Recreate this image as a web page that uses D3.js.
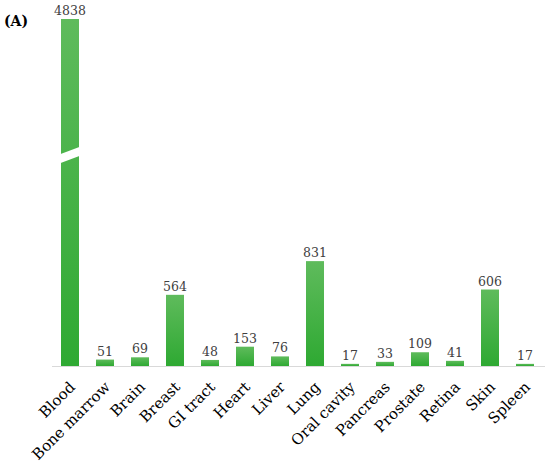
<!DOCTYPE html>
<html><head><meta charset="utf-8">
<script src="https://cdn.jsdelivr.net/npm/d3@7"></script>
<style>body{margin:0;background:#fff}svg{display:block}</style>
</head><body>
<svg id="c" width="550" height="465"></svg>
<script>
const categories = ["Blood","Bone marrow","Brain","Breast","GI tract","Heart","Liver","Lung","Oral cavity","Pancreas","Prostate","Retina","Skin","Spleen"];
const values = [4838,51,69,564,48,153,76,831,17,33,109,41,606,17];
const breakValue = 1656;

const svg = d3.select("#c");
const x = d3.scaleBand().domain(categories).range([52.5, 542.5]).paddingInner(0.486).paddingOuter(0.243);
const y = d3.scaleLinear().domain([0, breakValue, 4838]).range([366, 157, 19]);

const defs = svg.append("defs");
const g = defs.append("linearGradient").attr("id","gr").attr("x1",0).attr("y1",0).attr("x2",0).attr("y2",1);
g.append("stop").attr("offset","0%").attr("stop-color","#5fbb5c");
g.append("stop").attr("offset","100%").attr("stop-color","#2ea932");

svg.append("text").attr("x",4).attr("y",26).attr("font-family","DejaVu Serif").attr("font-weight","bold").attr("font-size",14).attr("fill","#000").text("(A)");

svg.append("line").attr("x1",52).attr("x2",545).attr("y1",366.5).attr("y2",366.5).attr("stroke","#d9d9d9").attr("stroke-width",1);

svg.selectAll("rect.bar").data(categories).join("rect").attr("class","bar")
  .attr("x", d=>x(d)).attr("width", x.bandwidth())
  .attr("y", (d,i)=>y(values[i])).attr("height",(d,i)=>y(0)-y(values[i]))
  .attr("fill","url(#gr)");

// axis break on the Blood bar
const bx0 = x(categories[0]) - 3, bx1 = x(categories[0]) + x.bandwidth() + 3, yb = y(breakValue);
svg.append("polygon").attr("fill","#fff")
  .attr("points", [[bx0, yb+7],[bx1, yb-2],[bx1, yb-11],[bx0, yb-2]].map(p=>p.join(",")).join(" "));

svg.selectAll("text.val").data(categories).join("text").attr("class","val")
  .attr("x", d=>x(d)+x.bandwidth()/2).attr("y",(d,i)=>y(values[i])-4)
  .attr("text-anchor","middle").attr("font-family","DejaVu Serif").attr("font-size",12.5).attr("fill","#404040")
  .text((d,i)=>values[i]);

svg.selectAll("text.cat").data(categories).join("text").attr("class","cat")
  .attr("transform", d=>`translate(${x(d)+x.bandwidth()/2+6},388) rotate(-45)`)
  .attr("text-anchor","end").attr("font-family","DejaVu Serif").attr("font-size",15).attr("fill","#000")
  .text(d=>d);
</script>
</body></html>
